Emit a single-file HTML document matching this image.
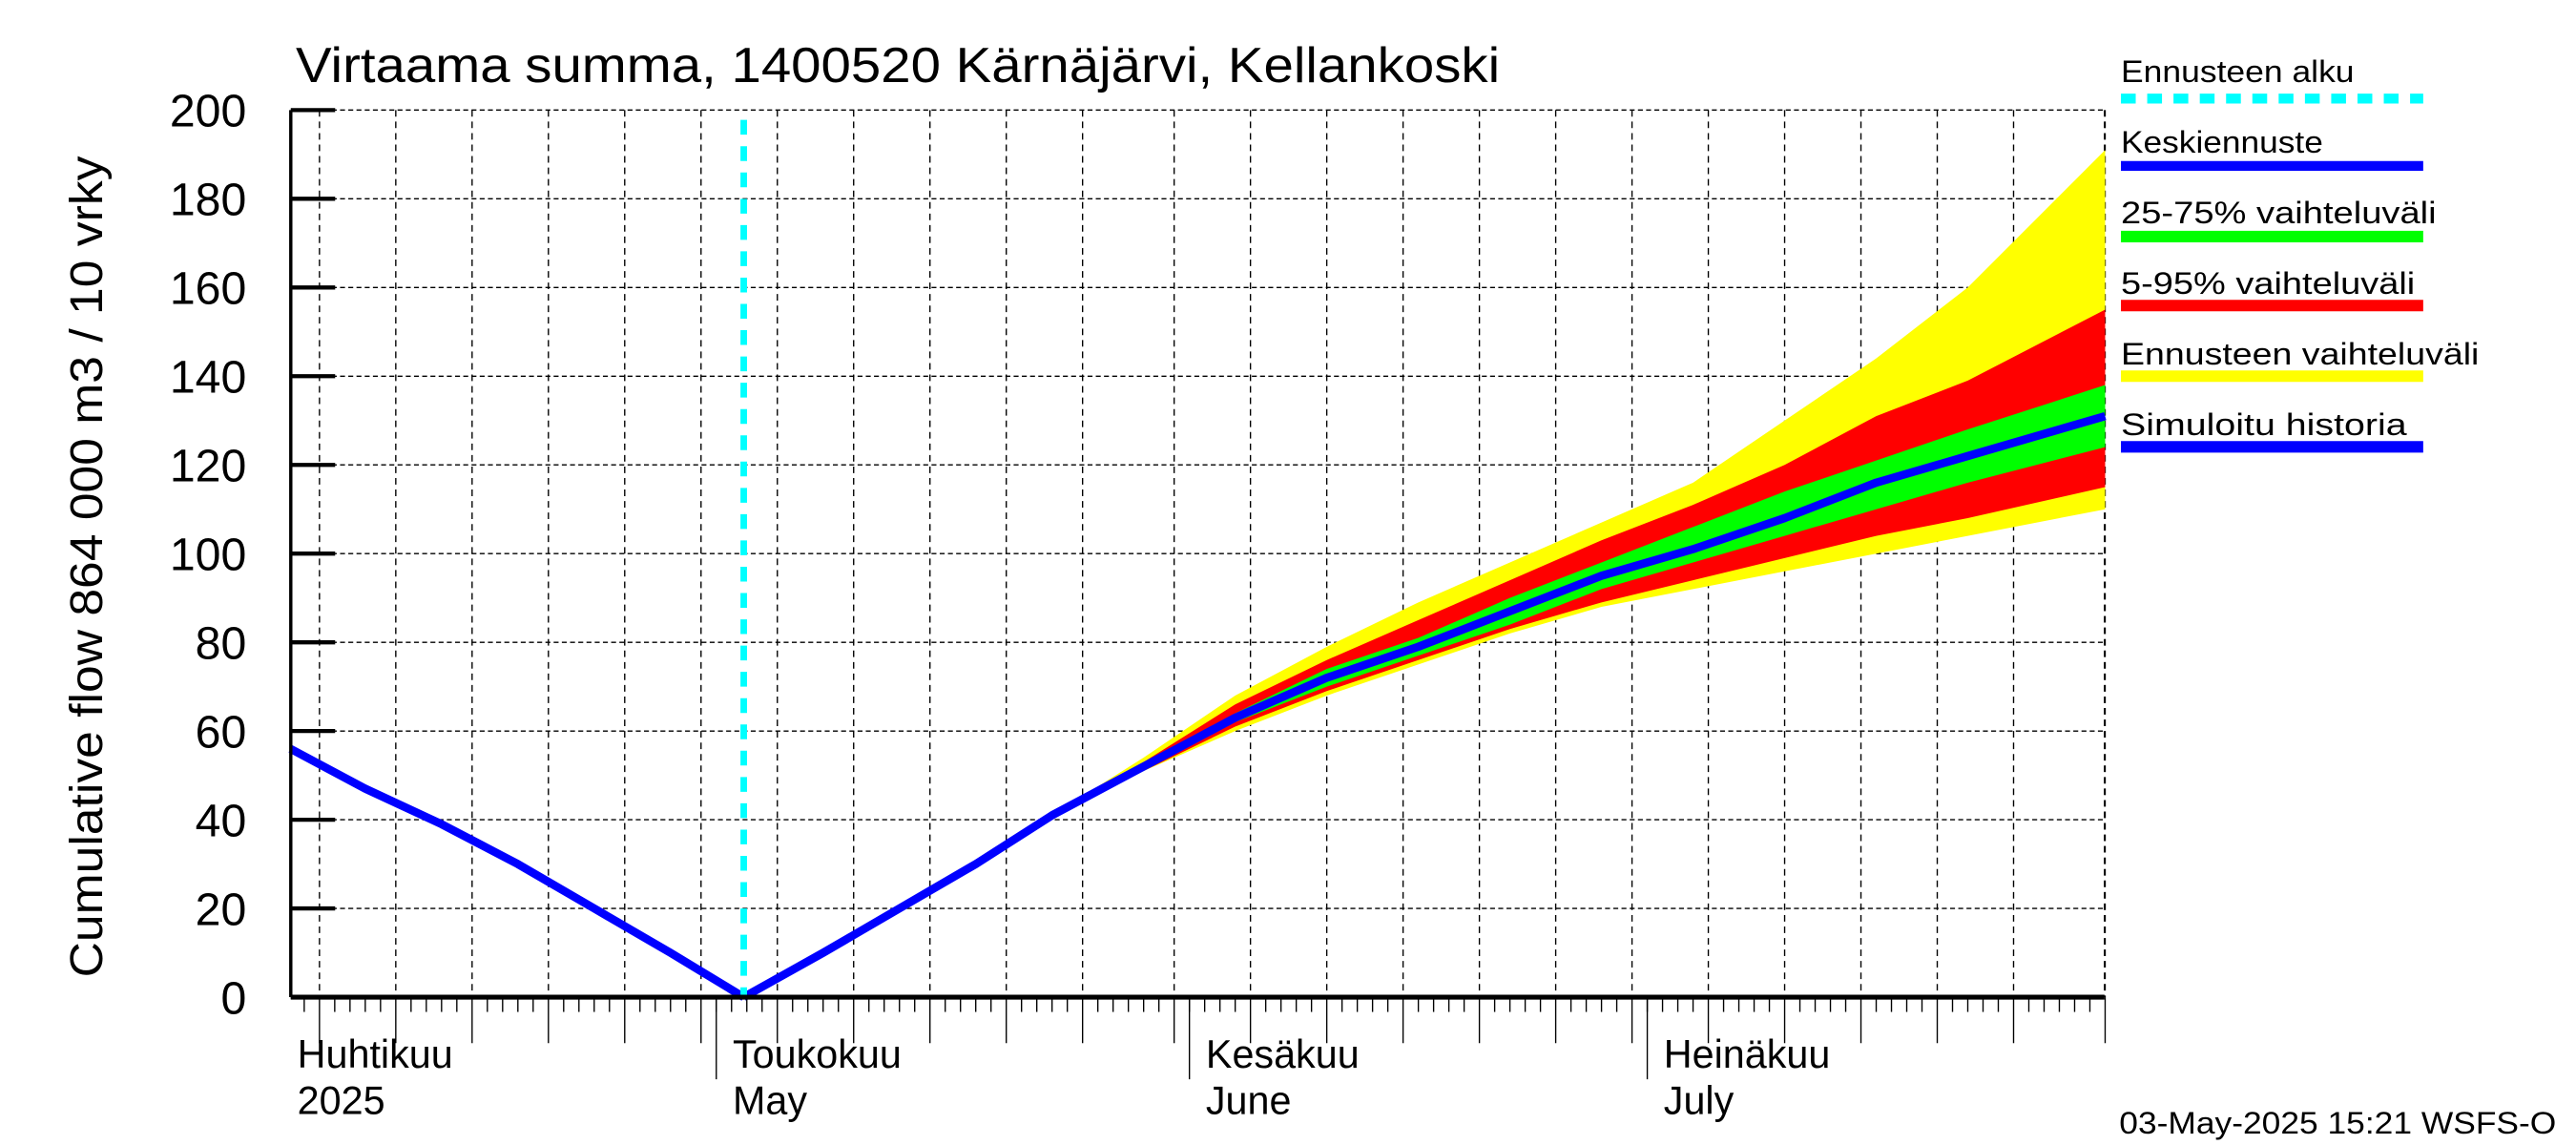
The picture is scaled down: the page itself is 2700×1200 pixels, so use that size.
<!DOCTYPE html>
<html><head><meta charset="utf-8"><style>html,body{margin:0;padding:0;background:#fff}svg{display:block}text{font-family:"Liberation Sans",sans-serif}</style></head>
<body>
<svg id="chart" width="2700" height="1200" viewBox="0 0 1568 697" preserveAspectRatio="none" xmlns="http://www.w3.org/2000/svg">
<rect x="0" y="0" width="1568" height="697" fill="#fff"/>
<text x="180" y="50" font-size="30" textLength="733" lengthAdjust="spacingAndGlyphs">Virtaama summa, 1400520 Kärnäjärvi, Kellankoski</text>
<text transform="translate(62,345) rotate(-90)" text-anchor="middle" font-size="28" textLength="500" lengthAdjust="spacingAndGlyphs">Cumulative flow    864 000 m3 / 10 vrky</text>
<g id="grid"></g><g id="bands"></g><g id="lines"></g><g id="axes"></g>
<g font-size="19">
<text x="1291" y="50" textLength="142" lengthAdjust="spacingAndGlyphs">Ennusteen alku</text>
<line x1="1291" y1="60" x2="1475" y2="60" stroke="#00ffff" stroke-width="6" stroke-dasharray="9,7"/>
<text x="1291" y="93" textLength="123" lengthAdjust="spacingAndGlyphs">Keskiennuste</text>
<line x1="1291" y1="101" x2="1475" y2="101" stroke="#0000ff" stroke-width="6"/>
<text x="1291" y="136" textLength="192" lengthAdjust="spacingAndGlyphs">25-75% vaihteluväli</text>
<line x1="1291" y1="144" x2="1475" y2="144" stroke="#00ff00" stroke-width="7"/>
<text x="1291" y="179" textLength="179" lengthAdjust="spacingAndGlyphs">5-95% vaihteluväli</text>
<line x1="1291" y1="186" x2="1475" y2="186" stroke="#ff0000" stroke-width="7"/>
<text x="1291" y="222" textLength="218" lengthAdjust="spacingAndGlyphs">Ennusteen vaihteluväli</text>
<line x1="1291" y1="229" x2="1475" y2="229" stroke="#ffff00" stroke-width="7"/>
<text x="1291" y="265" textLength="174" lengthAdjust="spacingAndGlyphs">Simuloitu historia</text>
<line x1="1291" y1="272" x2="1475" y2="272" stroke="#0000ff" stroke-width="7"/>
</g>
<text x="1290" y="690" font-size="19" textLength="266" lengthAdjust="spacingAndGlyphs">03-May-2025 15:21 WSFS-O</text>
</svg>
<script>
const yTicks=[0,20,40,60,80,100,120,140,160,180,200];
const monthLabels=[["Huhtikuu","2025"],["Toukokuu","May"],["Kesäkuu","June"],["Heinäkuu","July"]];
const monthStarts=[0,30,61,91];
const forecastStartDay=31.8;
const histDays=[2.1,7,12,17,22,27,31.8];
const histVals=[56,47,39,30,20,10,0];
const fDays=[31.8,37,42,47,52,58,64,70,76,82,88,94,100,106,112,121];
const median=[0,10,20,30,41,52,63,72,79,87,95,101,108,116,122,131];
const yelHi=[0,10,20,30,41,54,68,79,89,98,107,116,130,144,160,191];
const yelLo=[0,10,20,30,41,51,60,68,75,82,88,92,96,100,104,110];
const redHi=[0,10,20,30,41,53,66,76,85,94,103,111,120,131,139,155];
const redLo=[0,10,20,30,41,51,61,69,76,83,89,94,99,104,108,115];
const grnHi=[0,10,20,30,41,52,64,74,81,90,98,106,114,121,128,138];
const grnLo=[0,10,20,30,41,51,62,70,77,84,92,98,104,110,116,124];
const NS="http://www.w3.org/2000/svg";
const L=177,R=1281,T=67,B=607;
const x=d=>157.3+9.29*d;
const y=v=>B-(v/200)*(B-T);
function mk(tag,attrs,parent){const e=document.createElementNS(NS,tag);for(const k in attrs)e.setAttribute(k,attrs[k]);parent.appendChild(e);return e;}
const grid=document.getElementById('grid'),bands=document.getElementById('bands'),lines=document.getElementById('lines'),axes=document.getElementById('axes');
yTicks.forEach(v=>{
 const g=mk('line',{x1:L,x2:R,y1:y(v),y2:y(v),stroke:'#000','stroke-width':0.8,'stroke-dasharray':'3,2'},grid);
 
 
 const t=mk('line',{x1:L,x2:L+27,y1:y(v),y2:y(v),stroke:'#000','stroke-width':2.5},axes);
 
 
 const lb=mk('text',{x:150,y:y(v)+10,'text-anchor':'end','font-size':28},axes);
 lb.textContent=v;
 
 
});
const monthLen=[30,31,30,31];
for(let m=0;m<4;m++){
 for(let dd=1;dd<=monthLen[m];dd++){
  const day=monthStarts[m]+dd-1;
  const px=x(day);
  const isGrid=(dd%5===0&&dd<30)||dd===monthLen[m];
  if(px<L||px>R+0.5)continue;
  if(isGrid){
   const g=mk('line',{x1:px,x2:px,y1:T,y2:B,stroke:'#000','stroke-width':0.8,'stroke-dasharray':'4,3'},grid);
   
   
  }
  const tk=mk('line',{x1:px,x2:px,y1:B,y2:B+(isGrid?28:9),stroke:'#000','stroke-width':0.8},axes);
  
  
 }
 const mx=x(monthStarts[m]);
 if(mx>=L){
  const mt=mk('line',{x1:mx,x2:mx,y1:B,y2:B+50,stroke:'#000','stroke-width':0.8},axes);
  
  
 }
 const lx=Math.max(mx,L)+4+(m>0?6:0);
 const t1=mk('text',{x:lx,y:650,'font-size':24},axes);t1.textContent=monthLabels[m][0];
 
 
 const t2=mk('text',{x:lx,y:678,'font-size':24},axes);t2.textContent=monthLabels[m][1];
 
 
}
mk('line',{x1:R,x2:R,y1:T,y2:B,stroke:'#000','stroke-width':0.8,'stroke-dasharray':'4,3'},grid);
function band(hi,lo,color,name){
 let p=fDays.map((d,i)=>x(d)+','+y(hi[i]));
 p=p.concat(fDays.map((d,i)=>x(d)+','+y(lo[i])).reverse());
 const e=mk('polygon',{points:p.join(' '),fill:color},bands);
 
 
}
band(yelHi,yelLo,'#ffff00','forecast-range-band');
band(redHi,redLo,'#ff0000','band-5-95');
band(grnHi,grnLo,'#00ff00','band-25-75');
const h=mk('polyline',{points:histDays.map((d,i)=>x(d)+','+y(histVals[i])).join(' '),fill:'none',stroke:'#0000ff','stroke-width':5,'stroke-linejoin':'round'},lines);


const md=mk('polyline',{points:fDays.map((d,i)=>x(d)+','+y(median[i])).join(' '),fill:'none',stroke:'#0000ff','stroke-width':5,'stroke-linejoin':'round'},lines);


const fs=mk('line',{x1:x(forecastStartDay),x2:x(forecastStartDay),y1:73,y2:B,stroke:'#00ffff','stroke-width':4,'stroke-dasharray':'9,7'},lines);


const ax=mk('line',{x1:L,x2:L,y1:T,y2:B,stroke:'#000','stroke-width':2},axes);


const bx=mk('line',{x1:L,x2:R,y1:B,y2:B,stroke:'#000','stroke-width':3},axes);


</script>
</body></html>
